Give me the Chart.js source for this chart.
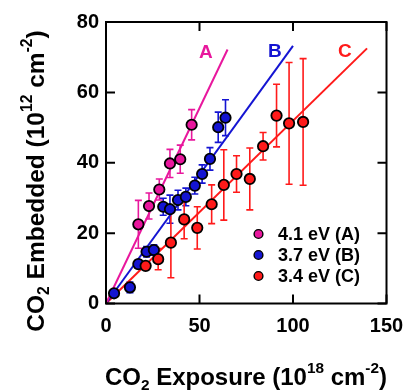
<!DOCTYPE html>
<html>
<head>
<meta charset="utf-8">
<script src="https://cdn.jsdelivr.net/npm/chart.js"></script>
<style>
  html, body { margin: 0; padding: 0; background: #fff; }
  #wrap { width: 408px; height: 392px; }
</style>
</head>
<body>
<div id="wrap"><canvas id="co2Chart" width="408" height="392"></canvas></div>
<script>
// values
const pinkX = [17.3, 23.0, 28.5, 34.2, 39.7, 45.8];
const pinkY = [22.5, 27.7, 32.4, 39.8, 41.0, 50.8];
const pinkErr = [6.8, 3.7, 3.0, 4.0, 4.0, 4.3];

const blueX = [4.3, 12.8, 17.3, 21.7, 25.6, 30.6, 34.2, 38.5, 42.7, 47.5, 51.4, 55.6, 60.0, 63.9];
const blueY = [2.9, 4.6, 11.2, 14.7, 15.2, 27.5, 26.8, 29.4, 30.3, 33.5, 36.8, 41.1, 50.1, 52.8];
const blueErr = [1.0, 1.5, 1.2, 1.5, 1.5, 2.4, 4.0, 2.8, 2.5, 2.4, 2.6, 3.2, 4.3, 5.1];

const redX = [21.2, 27.9, 34.7, 41.8, 48.8, 56.5, 63.0, 69.8, 76.9, 84.0, 91.2, 97.9, 105.4];
const redY = [10.7, 12.6, 17.3, 23.9, 21.5, 28.2, 33.7, 36.8, 35.4, 44.7, 53.4, 51.2, 51.6];
const redErr = [1.0, 3.0, 10.0, 5.5, 6.0, 5.5, 10.0, 5.2, 8.8, 3.9, 8.9, 17.3, 18.0];

// fitted lines (start, end)
const fitA = [[0, 0], [65, 72.2]];
const fitB = [[0, 0], [100, 73.2]];
const fitC = [[0, 0], [139.6, 72.5]];

const seriesLabels = ['4.1 eV (A)', '3.7 eV (B)', '3.4 eV (C)'];
const lineLabels = ['A', 'B', 'C'];
const lineLabelPos = [[53.4, 71.2], [90.3, 71.5], [127.7, 71.5]];

const xTicks = [0, 50, 100, 150];
const yTicks = [0, 20, 40, 60, 80];

const PINK = '#e8179d';
const BLUE = '#1414d2';
const RED = '#ff1a1a';
const FONT = '"Liberation Sans", Arial, sans-serif';

function pts(xs, ys) {
  return xs.map((x, i) => ({ x: x, y: ys[i] }));
}
function linePts(seg) {
  return seg.map(p => ({ x: p[0], y: p[1] }));
}

// draw text made of pieces, some sub/superscript
function richText(ctx, parts, size, cx, cy, rotate) {
  ctx.save();
  ctx.translate(cx, cy);
  if (rotate) ctx.rotate(-Math.PI / 2);
  let total = 0;
  parts.forEach(p => {
    ctx.font = 'bold ' + (size * p.s) + 'px ' + FONT;
    p.w = ctx.measureText(p.t).width;
    total += p.w;
  });
  let x = -total / 2;
  ctx.fillStyle = '#000';
  ctx.textBaseline = 'alphabetic';
  ctx.textAlign = 'left';
  parts.forEach(p => {
    ctx.font = 'bold ' + (size * p.s) + 'px ' + FONT;
    ctx.fillText(p.t, x, size * 0.36 + size * p.dy);
    x += p.w;
  });
  ctx.restore();
}

const decorPlugin = {
  id: 'decor',
  beforeDatasetsDraw(chart) {
    const ctx = chart.ctx;
    const xs = chart.scales.x, ys = chart.scales.y;
    const sets = [[pinkX, pinkY, pinkErr, PINK], [blueX, blueY, blueErr, BLUE], [redX, redY, redErr, RED]];
    ctx.save();
    ctx.lineWidth = 1.6;
    sets.forEach(s => {
      ctx.strokeStyle = s[3];
      s[0].forEach((xv, i) => {
        const px = xs.getPixelForValue(xv);
        const top = ys.getPixelForValue(s[1][i] + s[2][i]);
        const bot = ys.getPixelForValue(s[1][i] - s[2][i]);
        ctx.beginPath();
        ctx.moveTo(px, top); ctx.lineTo(px, bot);
        ctx.moveTo(px - 3.5, top); ctx.lineTo(px + 3.5, top);
        ctx.moveTo(px - 3.5, bot); ctx.lineTo(px + 3.5, bot);
        ctx.stroke();
      });
    });
    ctx.restore();
  },
  afterDatasetsDraw(chart) {
    const ctx = chart.ctx;
    const a = chart.chartArea;
    const xs = chart.scales.x, ys = chart.scales.y;
    ctx.save();
    // frame
    ctx.strokeStyle = '#000';
    ctx.lineWidth = 2;
    ctx.strokeRect(a.left, a.top, a.right - a.left, a.bottom - a.top);
    // inward ticks on all sides
    const tl = 9;
    ctx.beginPath();
    xTicks.forEach(v => {
      const px = xs.getPixelForValue(v);
      ctx.moveTo(px, a.bottom); ctx.lineTo(px, a.bottom - tl);
      ctx.moveTo(px, a.top); ctx.lineTo(px, a.top + tl);
    });
    yTicks.forEach(v => {
      const py = ys.getPixelForValue(v);
      ctx.moveTo(a.left, py); ctx.lineTo(a.left + tl, py);
      ctx.moveTo(a.right, py); ctx.lineTo(a.right - tl, py);
    });
    ctx.stroke();

    // line labels A B C
    const cols = [PINK, BLUE, RED];
    ctx.font = 'bold 19px ' + FONT;
    ctx.textAlign = 'center';
    ctx.textBaseline = 'middle';
    lineLabels.forEach((t, i) => {
      ctx.fillStyle = cols[i];
      ctx.fillText(t, xs.getPixelForValue(lineLabelPos[i][0]), ys.getPixelForValue(lineLabelPos[i][1]));
    });

    // legend
    ctx.font = 'bold 18px ' + FONT;
    ctx.textAlign = 'left';
    seriesLabels.forEach((t, i) => {
      const y = 234 + i * 21;
      ctx.beginPath();
      ctx.arc(258.5, y, 4.4, 0, Math.PI * 2);
      ctx.fillStyle = cols[i];
      ctx.fill();
      ctx.lineWidth = 1.4;
      ctx.strokeStyle = '#000';
      ctx.stroke();
      ctx.fillStyle = '#000';
      ctx.fillText(t, 278, y + 1);
    });

    // axis titles
    richText(ctx, [
      { t: 'CO', s: 1, dy: 0 },
      { t: '2', s: 0.64, dy: 0.22 },
      { t: ' Exposure (10', s: 1, dy: 0 },
      { t: '18', s: 0.64, dy: -0.5 },
      { t: ' cm', s: 1, dy: 0 },
      { t: '-2', s: 0.64, dy: -0.5 },
      { t: ')', s: 1, dy: 0 }
    ], 24, 246, 376, false);
    richText(ctx, [
      { t: 'CO', s: 1, dy: 0 },
      { t: '2', s: 0.64, dy: 0.22 },
      { t: ' Embedded (10', s: 1, dy: 0 },
      { t: '12', s: 0.64, dy: -0.5 },
      { t: ' cm', s: 1, dy: 0 },
      { t: '-2', s: 0.64, dy: -0.5 },
      { t: ')', s: 1, dy: 0 }
    ], 24.5, 35, 181, true);
    ctx.restore();
  }
};

function pointSet(label, xs, ys, color, order) {
  return {
    type: 'scatter',
    label: label,
    data: pts(xs, ys),
    backgroundColor: color,
    borderColor: '#000',
    borderWidth: 1.8,
    pointRadius: 5.2,
    pointHoverRadius: 5.2,
    order: order
  };
}
function fitSet(seg, color) {
  return {
    type: 'line',
    data: linePts(seg),
    borderColor: color,
    borderWidth: 2,
    pointRadius: 0,
    fill: false,
    order: 10
  };
}

new Chart(document.getElementById('co2Chart').getContext('2d'), {
  type: 'scatter',
  data: {
    datasets: [
      pointSet(seriesLabels[0], pinkX, pinkY, PINK, 3),
      pointSet(seriesLabels[1], blueX, blueY, BLUE, 2),
      pointSet(seriesLabels[2], redX, redY, RED, 1),
      fitSet(fitA, PINK),
      fitSet(fitB, BLUE),
      fitSet(fitC, RED)
    ]
  },
  options: {
    responsive: false,
    animation: false,
    clip: false,
    layout: { padding: { top: 22, right: 21.5, left: 0, bottom: 0 } },
    plugins: { legend: { display: false }, tooltip: { enabled: false } },
    scales: {
      x: {
        type: 'linear',
        min: 0, max: 150,
        afterFit: s => { s.height = 88.5; s.paddingLeft = 0; s.paddingRight = 0; },
        afterBuildTicks: s => { s.ticks = xTicks.map(v => ({ value: v })); },
        grid: { display: false, drawTicks: false },
        border: { display: false },
        ticks: { color: '#000', padding: 11, maxRotation: 0, font: { family: FONT, size: 20, weight: 'bold' } }
      },
      y: {
        type: 'linear',
        min: 0, max: 80,
        afterFit: s => { s.width = 106; s.paddingTop = 0; s.paddingBottom = 0; },
        afterBuildTicks: s => { s.ticks = yTicks.map(v => ({ value: v })); },
        grid: { display: false, drawTicks: false },
        border: { display: false },
        ticks: { color: '#000', padding: 7, font: { family: FONT, size: 20, weight: 'bold' } }
      }
    }
  },
  plugins: [decorPlugin]
});
</script>
</body>
</html>
